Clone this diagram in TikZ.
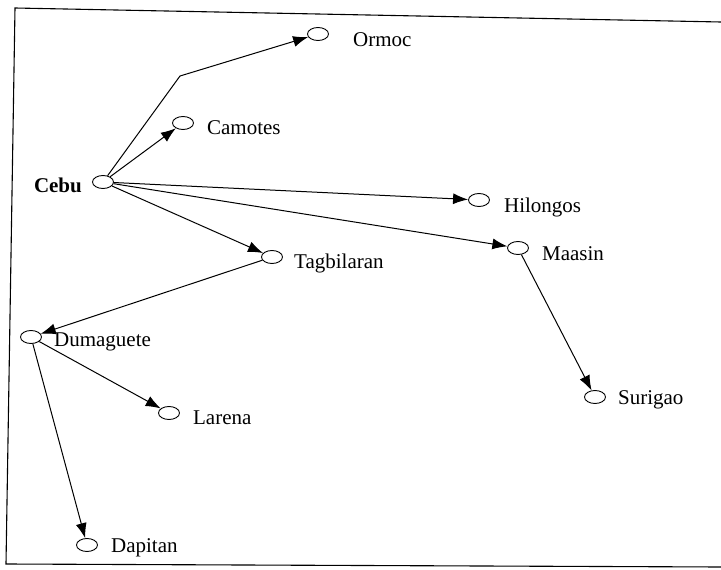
\documentclass[tikz,border=0pt]{standalone}
\usepackage{fontspec}
\setmainfont{Liberation Serif}
\usetikzlibrary{positioning,shapes.geometric,arrows.meta}

\tikzset{
  town/.style={ellipse, draw, line width=0.9pt, minimum width=21pt, minimum height=13pt, inner sep=0pt},
  townname/.style={inner sep=0pt, font=\fontsize{21}{24}\selectfont},
  route/.style={-{Latex[length=15pt,width=11pt]}, line width=1pt},
}

\begin{document}
\begin{tikzpicture}[x=1pt,y=-1pt]
  \useasboundingbox (0,0) rectangle (721,570);
  % frame
  \draw[line width=1.1pt] (721,22) -- (15,8) -- (6,564) -- (721,567);

  % ports
  \node[town] (cebu)       at (103,182) {};
  \node[town] (camotes)    at (183,123) {};
  \node[town] (ormoc)      at (318,34)  {};
  \node[town] (hilongos)   at (479,200) {};
  \node[town] (maasin)     at (518,248) {};
  \node[town] (tagbilaran) at (272,257) {};
  \node[town] (dumaguete)  at (31,337)  {};
  \node[town] (larena)     at (169,413) {};
  \node[town] (dapitan)    at (87,545)  {};
  \node[town] (surigao)    at (595,397) {};
  \coordinate (bend) at (180,76);

  % names
  \node[townname, font=\fontsize{21}{24}\selectfont\bfseries, left=10pt of cebu, yshift=-3pt] (cebuname) {Cebu};
  \node[townname, right=13pt of camotes, yshift=-5pt] (camotesname) {Camotes};
  \node[townname, right=24pt of ormoc, yshift=-6pt] (ormocname) {Ormoc};
  \node[townname, right=14pt of hilongos, yshift=-7pt] (hilongosname) {Hilongos};
  \node[townname, right=13pt of maasin, yshift=-6pt] (maasinname) {Maasin};
  \node[townname, right=11pt of tagbilaran, yshift=-6pt] (tagbilaranname) {Tagbilaran};
  \node[townname, right=12pt of dumaguete, yshift=-5pt] (dumaguetename) {Dumaguete};
  \node[townname, right=13pt of larena, yshift=-5pt] (larenaname) {Larena};
  \node[townname, right=13pt of dapitan, yshift=-3pt] (dapitanname) {Dapitan};
  \node[townname, right=12pt of surigao, yshift=-3pt] (suriganame) {Surigao};

  % routes
  \draw[route] (cebu) -- (bend) -- (ormoc);
  \draw[route] (cebu) -- (camotes);
  \draw[route] (cebu) -- (hilongos);
  \draw[route] (cebu) -- (maasin);
  \draw[route] (cebu) -- (tagbilaran);
  \draw[route] (tagbilaran) -- (dumaguete);
  \draw[route] (dumaguete) -- (larena);
  \draw[route] (dumaguete) -- (dapitan);
  \draw[route] (maasin) -- (surigao);
\end{tikzpicture}
\end{document}
